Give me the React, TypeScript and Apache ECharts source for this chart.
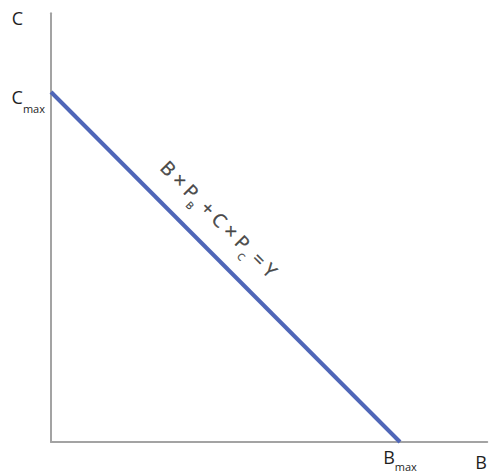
import React, { useEffect, useRef } from "react";
import * as echarts from "echarts";

const goodB = [0, 100];
const goodC = [100, 0];
const maxTickB = [100];
const maxTickC = [100];
const equationAnchor = [[48.4, 64.0]];

const FONT = "'Open Sans', 'DejaVu Sans', sans-serif";
const INK = "#1e1e1e";

export default function App() {
  const ref = useRef<HTMLDivElement>(null);
  useEffect(() => {
    const chart = echarts.init(ref.current!, null, { renderer: "svg" });
    const lineData = goodB.map((b, i) => [b, goodC[i]]);
    chart.setOption({
      animation: false,
      backgroundColor: "#ffffff",
      textStyle: { fontFamily: FONT },
      grid: { left: 51, top: 13.25, width: 436.25, height: 428.75, containLabel: false },
      xAxis: {
        type: "value",
        min: 0,
        max: 125,
        splitLine: { show: false },
        axisLine: { show: true, lineStyle: { color: "#a3a3a3", width: 2 } },
        axisTick: { show: false },
        axisLabel: {
          customValues: maxTickB,
          margin: 6,
          formatter: () => "{m|B}{s|max}",
          rich: {
            m: { fontSize: 18, color: INK, fontFamily: FONT, verticalAlign: "bottom", lineHeight: 18 },
            s: { fontSize: 11, color: INK, fontFamily: FONT, verticalAlign: "bottom", padding: [0, 0, -6, 0], lineHeight: 14 },
          },
        },
        name: "B",
        nameLocation: "end",
        nameGap: -12,
        nameTextStyle: { fontSize: 18, color: INK, fontFamily: FONT, verticalAlign: "top", padding: [11, 0, 0, 0] },
      },
      yAxis: {
        type: "value",
        min: 0,
        max: 122.5,
        splitLine: { show: false },
        axisLine: { show: true, lineStyle: { color: "#a3a3a3", width: 2 } },
        axisTick: { show: false },
        axisLabel: {
          customValues: maxTickC,
          margin: 6,
          formatter: () => "{m|C}{s|max}",
          rich: {
            m: { fontSize: 18, color: INK, fontFamily: FONT, verticalAlign: "bottom", lineHeight: 20, padding: [0, 0, -4, 0] },
            s: { fontSize: 11, color: INK, fontFamily: FONT, verticalAlign: "bottom", padding: [0, 0, -12, 0], lineHeight: 20 },
          },
        },
        name: "C",
        nameLocation: "end",
        nameGap: -14,
        nameTextStyle: { fontSize: 18, color: INK, fontFamily: FONT, align: "right", padding: [0, 28, 0, 0] },
      },
      series: [
        {
          type: "line",
          data: lineData,
          symbol: "none",
          lineStyle: { color: "#4f66b8", width: 4 },
        },
        {
          type: "scatter",
          data: equationAnchor,
          symbolSize: 0,
          silent: true,
          label: {
            show: true,
            position: "inside",
            rotate: -45,
            formatter: () => "{m|B × P}{s|B}{m| + C × P}{s|C}{m| = Y}",
            rich: {
              m: { fontSize: 19, color: INK, fontFamily: FONT, verticalAlign: "bottom", lineHeight: 22, textBorderColor: INK, textBorderWidth: 0.4 },
              s: { fontSize: 10, color: INK, fontFamily: FONT, verticalAlign: "bottom", padding: [0, 1, -6, 0], lineHeight: 22, textBorderColor: INK, textBorderWidth: 0.3 },
            },
          },
        },
      ],
    });
    return () => chart.dispose();
  }, []);
  return <div ref={ref} style={{ width: 490, height: 473, position: "absolute", left: 0, top: 0 }} />;
}
